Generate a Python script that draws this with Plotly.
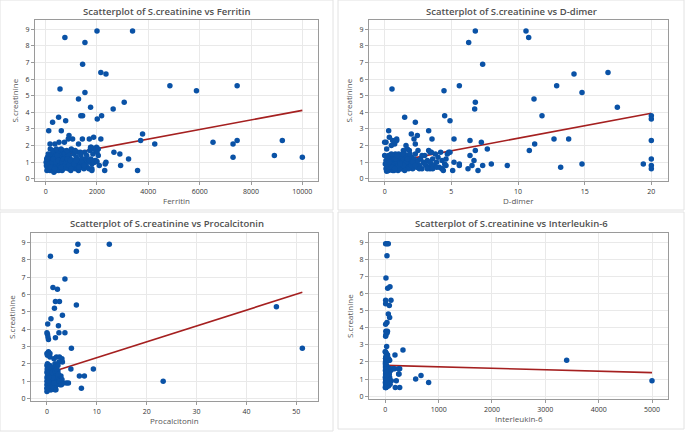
import plotly.graph_objects as go

W, H = 685, 435

# ---------------- data ----------------
ferritin_x = [750, 2000, 3385, 1530, 1440, 2150, 2350, 560, 1530, 4840, 5875, 7460, 1280, 3060,
              1750, 2630, 1370, 1440, 505, 2180, 2010, 270, 780, 120, 610, 3775, 910, 880, 1050,
              1430, 1700, 1870, 2150, 3700, 7460, 9220, 4250, 6520, 7300, 8910, 7300, 10000, 2660,
              2890, 3230, 2350, 2320, 2920, 2090, 3580, 2300, 1800, 170, 360, 520, 730, 1280, 1980,
              1780, 2050,
              50, 60, 80, 90, 100, 110, 120, 130, 140, 150, 160, 170, 180, 190, 200, 210, 220, 230,
              240, 250, 260, 270, 280, 290, 300, 310, 320, 330, 340, 350, 360, 370, 380, 390, 400,
              410, 420, 430, 440, 450, 460, 470, 480, 490, 500, 510, 520, 530, 540, 550, 560, 570,
              580, 590, 600, 610, 620, 630, 640, 650, 660, 670, 680, 690, 700, 720, 740, 760, 780,
              800, 820, 840, 860, 880, 900, 920, 940, 960, 980, 1000, 1020, 1050, 1080, 1100, 1130,
              1160, 1190, 1220, 1250, 1280, 1310, 1340, 1370, 1400, 1430, 1460, 1490, 1520, 1550,
              1580, 1610, 1650, 1690, 1720, 1760, 1800, 1840, 1880, 1920, 1960, 2000, 2050, 1850,
              1750, 20, 30, 40, 70, 100, 150, 200, 250, 300, 350, 400, 450, 500, 550, 600, 650, 700,
              750, 800, 850, 900, 950, 1000, 1100, 1200, 1300, 1400, 1500, 1600, 1700, 1800, 180,
              280, 420, 600, 820, 1000, 1150, 1350, 1900, 1950, 2000]
ferritin_y = [8.5, 8.9, 8.9, 8.2, 6.9, 6.4, 6.3, 5.4, 5.2, 5.6, 5.3, 5.6, 4.8, 4.6,
              4.3, 4.2, 3.8, 3.8, 3.7, 3.8, 3.6, 3.4, 3.5, 2.9, 2.9, 2.7, 2.6, 2.4, 2.4,
              2.4, 2.4, 2.5, 2.4, 2.3, 2.3, 2.3, 2.1, 2.2, 2.1, 1.4, 1.3, 1.3, 1.6,
              1.5, 1.2, 1.0, 0.9, 0.8, 0.8, 0.5, 0.5, 0.5, 2.1, 2.1, 2.2, 2.2, 2.1, 1.9,
              1.9, 1.8,
              0.5, 0.7, 0.9, 1.1, 0.8, 1.2, 0.6, 1.0, 0.9, 1.4, 0.7, 0.5, 1.1, 0.8, 1.3, 0.9, 0.6, 1.0,
              1.5, 0.7, 1.2, 0.8, 0.5, 1.0, 0.9, 1.6, 0.4, 1.1, 0.7, 1.3, 0.9, 0.6, 1.0, 1.4, 0.8,
              1.2, 0.5, 0.9, 1.7, 1.0, 0.7, 1.1, 0.6, 1.3, 0.9, 0.5, 1.5, 0.8, 1.0, 1.2, 0.7, 1.6,
              0.9, 0.6, 1.1, 1.4, 0.8, 1.0, 0.5, 1.3, 0.7, 1.7, 0.9, 1.2, 0.6, 1.0, 1.5, 0.8, 1.1,
              0.7, 1.3, 0.9, 1.6, 0.6, 1.0, 1.4, 0.8, 1.2, 0.5, 1.7, 0.9, 1.1, 0.7, 1.5, 1.0,
              0.6, 1.3, 0.8, 1.6, 0.5, 1.1, 0.9, 1.4, 0.7, 1.2, 1.0, 0.6, 1.6, 0.9,
              1.2, 0.7, 1.0, 0.6, 1.7, 1.2, 0.9, 1.5, 1.0, 1.1, 1.7, 1.6, 1.4, 1.8,
              1.9, 1.0, 0.8, 1.2, 1.3, 1.5, 0.9, 0.7, 1.0, 1.2, 0.6, 1.0, 1.4, 1.1, 0.8, 0.7, 1.0, 1.2,
              0.9, 1.0, 1.2, 0.8, 1.1, 0.6, 0.9, 1.1, 0.7, 1.0, 0.8, 1.4, 1.1, 0.6, 1.8,
              1.7, 1.8, 1.8, 1.7, 1.8, 1.7, 1.6, 1.0, 1.1, 1.05]

ddimer_x = [10.6, 6.8, 10.8, 6.3, 7.35, 16.75, 14.2, 0.55, 5.6, 12.9, 4.45, 14.8, 11.2, 6.8, 6.75,
            17.45, 4.5, 11.8, 20, 20, 1.5, 4.9, 2.3, 0.3, 3.3, 2.0, 2.45, 0.35, 0.9, 2.2, 3.55, 5.2,
            6.4, 12.7, 13.8, 0.0, 0.75, 7.25, 20, 11.25, 2.3, 0.75, 10.85, 7.7, 6.8, 4.9, 6.4, 4.7,
            20, 20, 20, 19.4, 14.8, 13.2, 9.2, 8.0, 7.35, 7.0, 6.7, 6.55, 6.25, 5.6, 5.6, 5.2, 5.1,
            4.3, 4.4, 3.4, 0.1, 0.0, 0.15,
            0.1, 0.15, 0.2, 0.25, 0.3, 0.35, 0.4, 0.45, 0.5, 0.55, 0.6, 0.65, 0.7, 0.75, 0.8, 0.85,
            0.9, 0.95, 1.0, 1.05, 1.1, 1.15, 1.2, 1.25, 1.3, 1.35, 1.4, 1.45, 1.5, 1.55, 1.6, 1.65,
            1.7, 1.75, 1.8, 1.85, 1.9, 1.95, 2.0, 2.1, 2.2, 2.3, 2.4, 2.5, 2.6, 2.7, 2.8, 2.9, 3.0,
            3.1, 3.2, 3.3, 3.4, 3.5, 3.6, 3.7, 3.8, 3.9, 4.0, 4.1, 4.2, 4.3, 4.5, 4.6, 4.8, 3.3,
            3.5, 2.5, 1.6, 1.7, 1.4, 0.9, 0.5, 0.6, 0.05, 0.2, 0.3, 0.4, 0.5, 0.6, 0.7, 0.8, 0.9,
            1.0, 1.1, 1.2, 1.3, 1.4, 1.5, 1.6, 1.8, 2.0, 2.2, 2.4, 2.6, 2.8, 3.0, 3.2, 3.4, 3.6,
            3.9, 4.3, 4.6, 0.1, 0.3, 0.5, 0.7, 0.9, 1.1, 1.3, 1.5, 1.7, 1.9, 2.1, 2.3, 0.2, 0.4,
            0.6, 0.8, 1.0, 1.2, 1.4, 0.15, 0.35, 0.55, 0.75, 0.95, 1.15, 1.35]
ddimer_y = [8.9, 8.9, 8.5, 8.2, 6.9, 6.4, 6.3, 5.4, 5.6, 5.6, 5.3, 5.2, 4.8, 4.6, 4.2,
            4.3, 3.8, 3.8, 3.8, 3.6, 3.7, 3.5, 3.4, 2.9, 2.9, 2.7, 2.6, 2.5, 2.4, 2.4, 2.4, 2.4,
            2.3, 2.4, 2.4, 2.2, 2.2, 2.2, 2.3, 2.1, 2.1, 2.1, 1.7, 1.8, 1.7, 1.6, 1.4, 1.5,
            1.2, 0.8, 0.6, 0.9, 0.9, 0.7, 0.8, 0.9, 0.8, 0.5, 1.1, 0.8, 0.6, 0.9, 0.8, 1.0, 0.5,
            0.6, 0.5, 0.6, 2.2, 1.4, 1.8,
            0.6, 0.8, 1.0, 0.5, 1.2, 0.7, 0.9, 1.1, 0.6, 1.3, 0.8, 1.0, 0.5, 1.4, 0.7, 0.9,
            1.2, 0.6, 1.0, 1.5, 0.8, 1.1, 0.6, 0.9, 1.3, 0.7, 1.0, 1.6, 0.8, 1.2, 0.6, 0.9,
            1.4, 0.7, 1.1, 1.7, 0.8, 1.0, 1.3, 0.6, 0.9, 1.5, 0.7, 1.1, 0.8, 1.2, 0.6, 1.0, 1.4,
            0.8, 1.1, 0.7, 1.6, 0.9, 1.2, 0.8, 1.5, 1.0, 1.3, 0.7, 1.6, 1.1, 0.9, 1.2, 1.6, 1.7,
            1.6, 1.7, 2.0, 1.8, 1.7, 2.3, 2.0, 2.3, 0.9, 0.7, 0.5, 1.3, 0.8, 1.1, 0.9, 1.5, 0.7,
            0.5, 1.3, 1.0, 0.6, 1.2, 1.4, 1.0, 0.6, 0.8, 1.2, 1.0, 0.6, 1.4, 0.9, 0.6, 1.0, 0.6,
            0.7, 0.6, 0.8, 1.1, 1.4, 1.5, 1.2, 1.0, 0.6, 0.9, 0.5, 1.2, 1.5, 1.0, 0.8, 1.3, 0.6,
            0.5, 1.2, 0.8, 1.4, 0.8, 0.45, 1.0, 0.7, 0.6, 1.4, 0.9, 1.5]

pct_x = [6.2, 12.5, 5.9, 0.7, 3.6, 1.2, 2.1, 1.7, 2.5, 5.9, 1.5, 3.1, 0.8, 0.15, 2.3, 0.0, 0.1,
         0.3, 0.2, 2.4, 3.6, 1.7, 4.9, 46.0, 51.2, 23.3, 9.3, 4.8, 6.5, 7.5, 6.9, 3.9, 3.0, 3.3,
         4.3, 1.6, 0.0, 0.3, 0.6, 0.1, 0.6, 1.4, 1.9, 2.5, 3.0, 3.1, 2.4, 1.6,
         0.0, 0.05, 0.1, 0.15, 0.2, 0.25, 0.3, 0.35, 0.4, 0.45, 0.5, 0.55, 0.6, 0.65, 0.7, 0.75,
         0.8, 0.85, 0.9, 0.95, 1.0, 1.05, 1.1, 1.2, 1.3, 1.4, 1.5, 1.6, 1.7, 1.8, 1.9, 2.0, 2.1,
         2.2, 2.4, 2.6, 2.8, 3.0, 2.2, 0.0, 0.1, 0.2, 0.3, 0.4, 0.5, 0.6, 0.7, 0.8, 0.9, 1.0, 1.1,
         1.2, 1.3, 1.4, 1.5, 1.6, 1.7, 1.8, 0.0, 0.0, 0.05, 0.1, 0.15, 0.2, 0.25, 0.3, 0.35, 0.4,
         0.45, 0.5, 0.55, 0.6, 0.65, 0.7, 0.75, 0.8, 0.85, 0.9, 0.95, 1.0, 1.2, 1.4, 1.6, 0.0,
         0.0, 0.0, 0.1, 0.2, 0.3, 0.4, 0.5, 2.5, 2.9, 1.9, 2.3]
pct_y = [8.9, 8.9, 8.5, 8.2, 6.9, 6.4, 6.3, 5.6, 5.6, 5.4, 5.2, 4.8, 4.6, 4.3, 4.2, 3.8, 3.7,
         3.4, 3.55, 3.8, 3.8, 3.5, 2.9, 5.3, 2.9, 1.0, 1.7, 1.7, 1.3, 1.3, 0.6, 0.9, 0.9, 0.9,
         0.9, 0.5, 2.6, 2.7, 2.6, 2.5, 2.4, 2.3, 2.4, 2.4, 2.3, 2.1, 2.1, 2.0,
         0.4, 0.6, 0.8, 1.0, 1.2, 1.4, 0.5, 0.7, 0.9, 1.1, 1.3, 1.5, 0.6, 0.8, 1.0, 1.2,
         1.6, 0.5, 0.9, 1.1, 1.3, 0.7, 1.7, 0.6, 1.0, 1.4, 0.8, 1.2, 0.7, 1.8, 1.0, 1.5, 0.9,
         1.6, 1.2, 0.8, 1.3, 1.1, 1.9, 1.9, 1.6, 0.5, 1.8, 1.5, 0.7, 1.9, 0.5, 1.1, 1.4, 0.6, 1.0,
         1.5, 0.7, 1.1, 1.7, 0.9, 1.3, 0.5, 1.2, 0.8, 1.7, 1.3, 0.5, 0.9, 1.1, 1.5, 1.0, 1.7,
         0.6, 1.0, 0.9, 1.4, 1.2, 1.6, 0.8, 0.6, 1.3, 1.8, 0.7, 1.5, 1.2, 0.9, 1.6, 1.5,
         1.0, 0.6, 2.0, 1.8, 1.0, 1.2, 1.8, 1.0, 0.8, 1.7, 1.4]

il6_x = [6, 31, 56, 31, 12, 87, 44, 6, 106, 6, 75, 56, 81, 6, 31, 10, 40, 12, 35, 6, 25, 0, 20,
         40, 331, 181, 5, 44, 81, 3400, 269, 144, 100, 256, 669, 569, 812, 112, 206, 187, 269,
         5000, 250, 100, 174, 250,
         2, 5, 8, 10, 12, 15, 18, 20, 22, 25, 28, 30, 3, 6, 9, 12, 15, 18, 21, 24, 27, 30, 33, 36,
         40, 44, 48, 4, 7, 10, 13, 16, 19, 22, 26, 30, 35, 40, 45, 50, 55, 60, 65, 70, 80, 90, 2,
         3, 5, 8, 11, 14, 17, 20, 25, 35, 42, 50, 60, 75, 5, 0, 20, 40, 70, 60, 30, 10, 1, 1, 2,
         4, 6, 9, 13, 17, 23, 28, 33, 38]
il6_y = [8.9, 8.9, 8.9, 8.2, 6.9, 6.4, 6.3, 5.6, 5.6, 5.4, 5.3, 4.8, 4.6, 4.2, 4.3, 3.8, 3.8,
         3.6, 3.7, 3.5, 2.9, 2.6, 2.5, 2.4, 2.7, 2.4, 2.2, 2.1, 2.1, 2.1, 1.6, 1.6, 1.5, 1.3, 1.2,
         1.0, 0.8, 0.9, 0.9, 0.5, 0.5, 0.9, 1.3, 1.6, 1.6, 1.6,
         0.5, 0.6, 0.7, 0.8, 0.9, 1.0, 1.1, 1.2, 1.3, 1.4, 1.5, 1.6, 1.7, 1.8, 1.9, 2.0, 0.5, 0.6,
         0.7, 0.8, 0.9, 1.0, 1.1, 1.2, 1.3, 1.4, 1.5, 1.0, 1.2, 1.4, 1.6, 0.8, 1.3, 0.6, 1.7, 0.7,
         0.9, 1.1, 0.8, 1.0, 1.2, 0.6, 1.4, 0.9, 1.1, 0.7, 1.5, 2.0, 1.3, 0.9, 1.1, 1.5, 1.8, 0.9,
         1.1, 1.5, 1.7, 1.6, 1.0, 1.3, 2.2, 2.6, 2.5, 2.4, 2.1, 2.2, 2.1, 2.3, 1.1, 0.8, 1.9, 0.5,
         1.6, 0.6, 0.7, 1.4, 1.0, 1.2, 0.6, 0.8]

# fitted regression lines (intercept, slope)
fit_ferritin = (1.24, 0.000288)
fit_ddimer = (0.93, 0.151)
fit_pct = (1.44, 0.0915)
fit_il6 = (1.80, -0.000085)

titles = ["Scatterplot of S.creatinine vs Ferritin",
          "Scatterplot of S.creatinine vs D-dimer",
          "Scatterplot of S.creatinine vs Procalcitonin",
          "Scatterplot of S.creatinine vs Interleukin-6"]
x_names = ["Ferritin", "D-dimer", "Procalcitonin", "Interleukin-6"]
y_name = "S.creatinine"
x_ticks = [[0, 2000, 4000, 6000, 8000, 10000], [0, 5, 10, 15, 20],
           [0, 10, 20, 30, 40, 50], [0, 1000, 2000, 3000, 4000, 5000]]
y_ticks = [0, 1, 2, 3, 4, 5, 6, 7, 8, 9]

# ---------------- layout geometry (pixels) ----------------
panels = [(0, 0, 333, 211), (338, 0, 684, 211), (0, 213, 333, 433), (338, 213, 684, 431)]
plots = [(35, 20, 318, 182), (369, 20, 668, 182), (31, 234, 318, 403), (369, 234, 668, 401)]
x_ranges = [[-415, 10610], [-1.175, 21.25], [-3.2, 54.34], [-306, 5300]]
y_ranges = [[-0.14, 9.56], [-0.14, 9.56], [-0.15, 9.55], [-0.175, 9.54]]

BLUE = "#0a52a6"
RED = "#a52020"
FONT = "Open Sans"

fig = go.Figure()
data = [(ferritin_x, ferritin_y, fit_ferritin), (ddimer_x, ddimer_y, fit_ddimer),
        (pct_x, pct_y, fit_pct), (il6_x, il6_y, fit_il6)]

for i, (xs, ys, (b0, b1)) in enumerate(data):
    ax = "" if i == 0 else str(i + 1)
    x0, x1 = min(xs), max(xs)
    fig.add_trace(go.Scatter(x=[x0, x1], y=[b0 + b1 * x0, b0 + b1 * x1], mode="lines",
                             xaxis="x" + ax, yaxis="y" + ax,
                             line=dict(color=RED, width=1.6), showlegend=False, hoverinfo="skip"))
    fig.add_trace(go.Scatter(x=xs, y=ys, mode="markers", xaxis="x" + ax, yaxis="y" + ax,
                             marker=dict(color=BLUE, size=5.5, line=dict(width=0)),
                             showlegend=False, hoverinfo="skip"))

layout = dict(width=W, height=H, margin=dict(l=0, r=0, t=0, b=0),
              paper_bgcolor="white", plot_bgcolor="white", font=dict(family=FONT, color="#444"))
shapes, annotations = [], []
for i in range(4):
    ax = "" if i == 0 else str(i + 1)
    l, t, r, b = plots[i]
    common = dict(showgrid=True, gridcolor="#e9e9e9", gridwidth=1, zeroline=False,
                  showline=True, linecolor="#9a9a9a", linewidth=1, mirror=True,
                  ticks="outside", ticklen=3, tickcolor="#9a9a9a",
                  tickfont=dict(size=7, color="#333", family=FONT))
    layout["xaxis" + ax] = dict(domain=[l / W, r / W], range=x_ranges[i], tickvals=x_ticks[i],
                                ticktext=[str(v) for v in x_ticks[i]],
                                anchor="y" + ax, **common)
    layout["yaxis" + ax] = dict(domain=[1 - b / H, 1 - t / H], range=y_ranges[i], tickvals=y_ticks,
                                anchor="x" + ax, **common)
    pl, pt, pr, pb = panels[i]
    shapes.append(dict(type="rect", xref="paper", yref="paper", x0=pl / W, x1=pr / W,
                       y0=1 - pb / H, y1=1 - pt / H, line=dict(color="#e2e2e2", width=1),
                       fillcolor="rgba(0,0,0,0)", layer="below"))
    annotations.append(dict(text=titles[i], xref="paper", yref="paper", x=(pl + pr) / 2 / W,
                            y=1 - (pt + 12) / H, xanchor="center", yanchor="middle", showarrow=False,
                            font=dict(size=9.5, color="#505050", family=FONT, weight=600)))
    annotations.append(dict(text=x_names[i], xref="paper", yref="paper", x=(l + r) / 2 / W,
                            y=1 - (b + 19.5) / H, xanchor="center", yanchor="middle", showarrow=False,
                            font=dict(size=8, color="#555", family=FONT)))
    annotations.append(dict(text=y_name, xref="paper", yref="paper", x=(l - 20) / W,
                            y=1 - (t + b) / 2 / H, xanchor="center", yanchor="middle", showarrow=False,
                            textangle=-90, font=dict(size=8, color="#555", family=FONT)))
layout["shapes"] = shapes
layout["annotations"] = annotations
fig.update_layout(**layout)
fig.write_html("out.html", config={"displayModeBar": False},
               post_script="document.body.style.margin='0';document.body.style.overflow='hidden';")
